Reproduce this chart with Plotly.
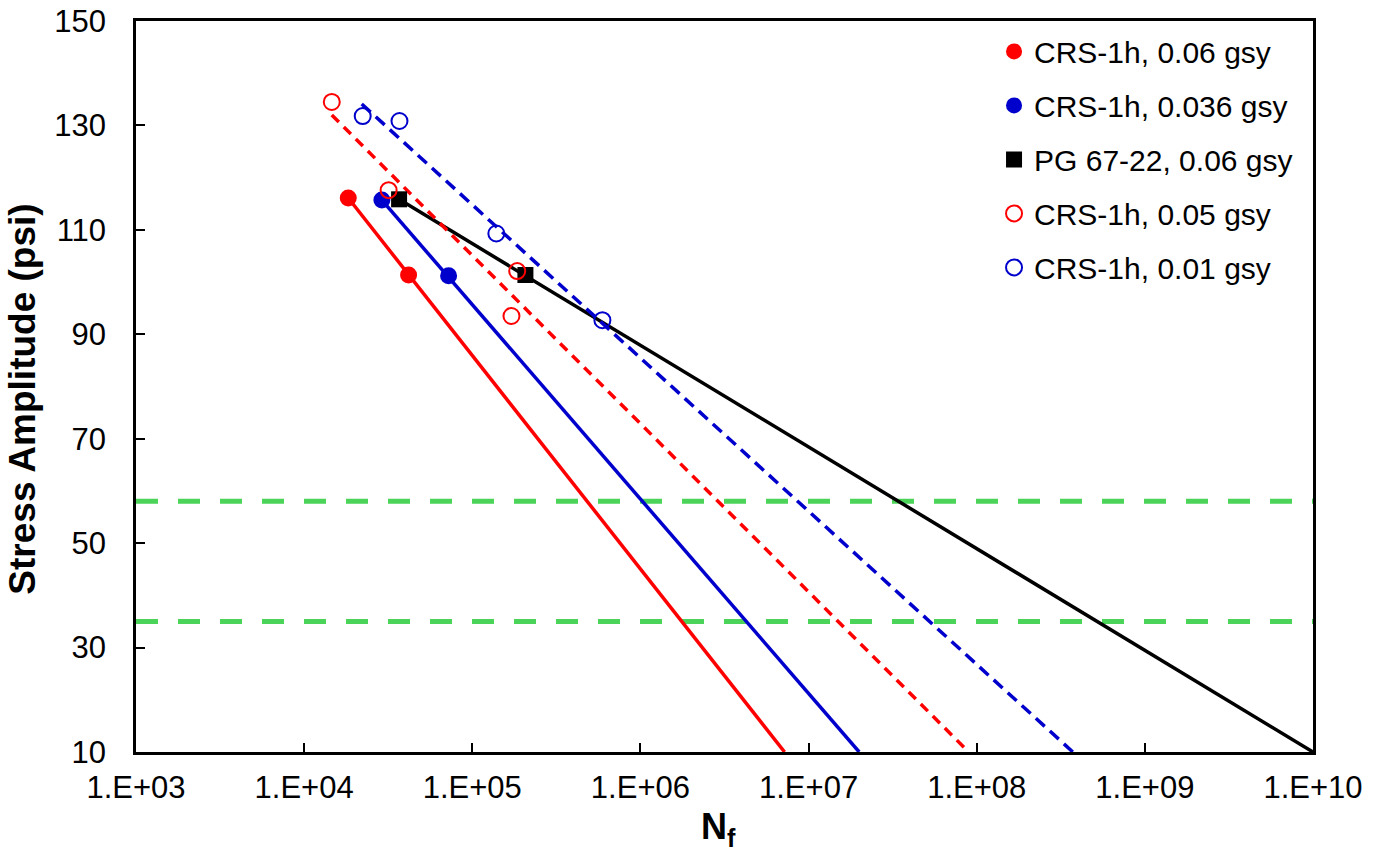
import plotly.graph_objects as go

# ---- data ----
red_filled_x = [1.83e4, 4.18e4]
red_filled_y = [116.1, 101.35]
red_filled_trend_x = [1.83e4, 7.2e6]
red_filled_trend_y = [116.1, 10]

blue_filled_x = [2.9e4, 7.23e4]
blue_filled_y = [115.7, 101.2]
blue_filled_trend_x = [2.9e4, 2.0e7]
blue_filled_trend_y = [115.7, 10]

pg_x = [3.67e4, 2.07e5]
pg_y = [115.85, 101.35]
pg_trend_x = [3.67e4, 1.0e10]
pg_trend_y = [115.85, 10]

red_open_x = [1.46e4, 3.18e4, 1.85e5, 1.71e5]
red_open_y = [134.5, 117.6, 102.1, 93.5]
red_open_trend_x = [1.46e4, 8.96e7]
red_open_trend_y = [132.0, 10]

blue_open_x = [2.23e4, 3.69e4, 1.39e5, 5.94e5]
blue_open_y = [131.8, 130.85, 109.3, 92.7]
blue_open_trend_x = [2.2e4, 3.73e8]
blue_open_trend_y = [134.1, 10]

threshold_levels = [58, 35]

x_tick_vals = [1e3, 1e4, 1e5, 1e6, 1e7, 1e8, 1e9, 1e10]
x_tick_text = ["1.E+03", "1.E+04", "1.E+05", "1.E+06", "1.E+07", "1.E+08", "1.E+09", "1.E+10"]
y_tick_vals = [10, 30, 50, 70, 90, 110, 130, 150]

names = ["CRS-1h, 0.06 gsy", "CRS-1h, 0.036 gsy", "PG 67-22, 0.06 gsy",
         "CRS-1h, 0.05 gsy", "CRS-1h, 0.01 gsy"]

RED = "#FF0000"
BLUE = "#0000CC"
BLACK = "#000000"
GREEN = "#4CD45A"
FONT = "Arial, Liberation Sans, sans-serif"

W, H = 1385, 867
ML, MR, MT, MB = 136, 72, 21, 115

fig = go.Figure()

# threshold lines
for lvl in threshold_levels:
    fig.add_shape(type="line", xref="paper", x0=0, x1=1, yref="y", y0=lvl, y1=lvl,
                  line=dict(color=GREEN, width=5, dash="22px,20px"), layer="below")

# trend lines
fig.add_trace(go.Scatter(x=red_filled_trend_x, y=red_filled_trend_y, mode="lines",
                         line=dict(color=RED, width=3.5), showlegend=False, hoverinfo="skip"))
fig.add_trace(go.Scatter(x=blue_filled_trend_x, y=blue_filled_trend_y, mode="lines",
                         line=dict(color=BLUE, width=3.5), showlegend=False, hoverinfo="skip"))
fig.add_trace(go.Scatter(x=pg_trend_x, y=pg_trend_y, mode="lines",
                         line=dict(color=BLACK, width=3.5), showlegend=False, hoverinfo="skip"))
fig.add_trace(go.Scatter(x=red_open_trend_x, y=red_open_trend_y, mode="lines",
                         line=dict(color=RED, width=3.5, dash="10px,7px"), showlegend=False, hoverinfo="skip"))
fig.add_trace(go.Scatter(x=blue_open_trend_x, y=blue_open_trend_y, mode="lines",
                         line=dict(color=BLUE, width=3.5, dash="12px,7px"), showlegend=False, hoverinfo="skip"))

# markers
fig.add_trace(go.Scatter(x=red_filled_x, y=red_filled_y, mode="markers", name=names[0],
                         legendgroup="a",
                         marker=dict(symbol="circle", size=17, color=RED, line=dict(width=0))))
fig.add_trace(go.Scatter(x=blue_filled_x, y=blue_filled_y, mode="markers", name=names[1],
                         legendgroup="b",
                         marker=dict(symbol="circle", size=17, color=BLUE, line=dict(width=0))))
fig.add_trace(go.Scatter(x=pg_x, y=pg_y, mode="markers", name=names[2],
                         legendgroup="c",
                         marker=dict(symbol="square", size=16, color=BLACK, line=dict(width=0))))
fig.add_trace(go.Scatter(x=red_open_x, y=red_open_y, mode="markers", name=names[3],
                         legendgroup="d",
                         marker=dict(symbol="circle-open", size=16, color=RED, line=dict(width=2))))
fig.add_trace(go.Scatter(x=blue_open_x, y=blue_open_y, mode="markers", name=names[4],
                         legendgroup="e",
                         marker=dict(symbol="circle-open", size=16, color=BLUE, line=dict(width=2))))

fig.update_layout(
    width=W, height=H,
    margin=dict(l=ML, r=MR, t=MT, b=MB, autoexpand=False),
    paper_bgcolor="white", plot_bgcolor="white",
    font=dict(family=FONT, color="black", size=29),
    legend=dict(x=0.729, xanchor="left", y=0.994, yanchor="top",
                bgcolor="rgba(0,0,0,0)", borderwidth=0,
                font=dict(size=30, family=FONT), tracegroupgap=12),
    xaxis=dict(type="log", range=[3, 10], tickvals=x_tick_vals, ticktext=x_tick_text,
               ticks="inside", ticklen=9, tickwidth=2, tickcolor="black",
               showline=True, linecolor="black", linewidth=2.5, mirror=True,
               showgrid=False, zeroline=False, ticklabeloverflow="allow",
               tickfont=dict(size=31, family=FONT), ticklabelstandoff=6),
    yaxis=dict(range=[10, 150], tickvals=y_tick_vals,
               ticks="inside", ticklen=9, tickwidth=2, tickcolor="black",
               showline=True, linecolor="black", linewidth=2.5, mirror=True,
               showgrid=False, zeroline=False, ticklabeloverflow="allow",
               tickfont=dict(size=31, family=FONT), ticklabelstandoff=21),
    annotations=[
        dict(text="<b>Stress Amplitude (psi)</b>", textangle=-90,
             xref="paper", yref="paper", x=-0.096, y=0.482, xanchor="center", yanchor="middle",
             showarrow=False, font=dict(size=37, family=FONT)),
        dict(text="<b>N<sub>f</sub></b>",
             xref="paper", yref="paper", x=0.495, y=-0.105, xanchor="center", yanchor="middle",
             showarrow=False, font=dict(size=36, family=FONT)),
    ],
)

fig.write_html("out.html", config={"displayModeBar": False},
               post_script="document.body.style.margin='0';document.body.style.overflow='hidden';")
